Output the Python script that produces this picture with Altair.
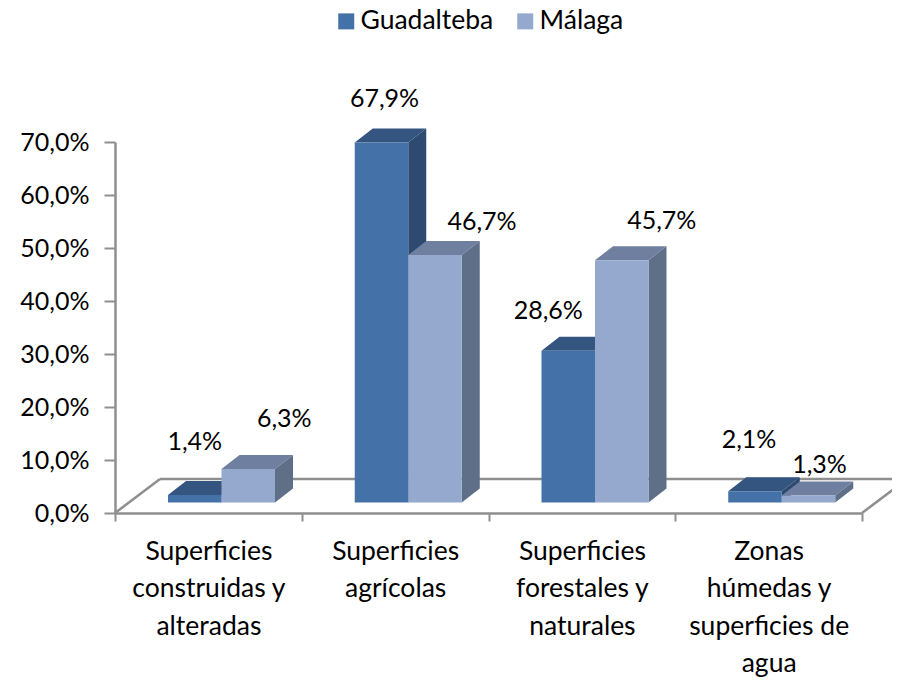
import json
import altair as alt
import pandas as pd

categories = ["Superficies|construidas y|alteradas", "Superficies|agrícolas",
              "Superficies|forestales y|naturales", "Zonas|húmedas y|superficies de|agua"]
guadalteba = [1.4, 67.9, 28.6, 2.1]
malaga = [6.3, 46.7, 45.7, 1.3]
series = ["Guadalteba", "Málaga"]
y_ticks = [0, 10, 20, 30, 40, 50, 60, 70]

FONT = "Lato"
FS = 26.5
FS_NUM = 25
GREY = "#8f8f8f"
front = {"Guadalteba": "#4472a8", "Málaga": "#95a9cf"}
side = {"Guadalteba": "#2d4a70", "Málaga": "#5f6f88"}
top = {"Guadalteba": "#34557f", "Málaga": "#6f7f9f"}

# 3-D box geometry in data units
START, BAR_W, DX = 0.2838, 0.2865, 0.0964
BASE, DY = 2.0, 2.64
FLOOR_X, FLOOR_Y = 0.241, 6.4

fronts, faces = [], []
for s_i, (s, vals) in enumerate(zip(series, [guadalteba, malaga])):
    for c_i, v in enumerate(vals):
        x0 = c_i + START + s_i * BAR_W
        x1 = x0 + BAR_W
        t = BASE + v
        fronts.append(dict(serie=s, x=x0, x2=x1, y=BASE, y2=t))
        for px, lo, hi in [(x0, t, t), (x0 + DX, t, t + DY), (x1, t, t + DY), (x1 + DX, t + DY, t + DY)]:
            faces.append(dict(serie=s, face=f"t{c_i}", fill=top[s], x=px, y=lo, y2=hi))
        for px, lo, hi in [(x1, BASE, t), (x1 + DX, BASE + DY, t + DY)]:
            faces.append(dict(serie=s, face=f"s{c_i}", fill=side[s], x=px, y=lo, y2=hi))
fronts = pd.DataFrame(fronts)
faces = pd.DataFrame(faces)

xs = alt.Scale(domain=[0, 4], nice=False, zero=False)
ys = alt.Scale(domain=[0, 70], nice=False, zero=False)

expr = "split(" + json.dumps(dict(enumerate(categories))) + "[''+datum.value] || '', '|')"
x_axis = alt.Axis(values=[0, 1, 2, 3, 4], title=None, grid=False, labelExpr=expr, labelAngle=0,
                  labelOffset=93.4, labelPadding=17, labelFont=FONT, labelFontSize=FS, labelColor="#000",
                  labelLineHeight=37.5, labelLimit=0, labelOverlap=False, labelBound=False, labelFlush=False,
                  labelAlign="center", labelBaseline="top",
                  tickSize=8, tickWidth=2, tickColor=GREY, domainColor=GREY, domainWidth=2.5)
y_axis = alt.Axis(values=y_ticks, title=None, grid=False,
                  labelExpr="replace(format(datum.value,'.1f'),'.',',')+'%'",
                  labelFont=FONT, labelFontSize=FS_NUM, labelColor="#000", labelPadding=15,
                  tickSize=11, tickWidth=2, tickColor=GREY, domainColor=GREY, domainWidth=2.5)
X = alt.X("x:Q", scale=xs, axis=x_axis)
Y = alt.Y("y:Q", scale=ys, axis=y_axis, stack=None)

floor_edges = pd.DataFrame([
    dict(e="left", x=0, y=0), dict(e="left", x=FLOOR_X, y=FLOOR_Y),
    dict(e="back", x=FLOOR_X, y=FLOOR_Y), dict(e="back", x=4 + FLOOR_X, y=FLOOR_Y),
    dict(e="right", x=4, y=0), dict(e="right", x=4 + FLOOR_X, y=FLOOR_Y),
])
floor = alt.Chart(floor_edges).mark_line(color=GREY, strokeWidth=2.5).encode(x=X, y=Y, detail="e:N")

def backs(s):
    return alt.Chart(faces[faces.serie == s]).mark_area(interpolate="linear", opacity=1).encode(
        x=X, y=Y, y2="y2:Q", detail="face:N", fill=alt.Fill("fill:N", scale=None))

fronts_layer = alt.Chart(fronts).mark_rect().encode(
    x=X, x2="x2:Q", y=Y, y2="y2:Q",
    color=alt.Color("serie:N", sort=series,
                    scale=alt.Scale(domain=series, range=[front[s] for s in series]),
                    legend=alt.Legend(orient="none", legendX=218, legendY=-134, direction="horizontal",
                                      title=None, labelFont=FONT, labelFontSize=FS, labelColor="#000",
                                      symbolType="square", symbolSize=256, symbolStrokeWidth=0,
                                      columnPadding=18, labelOffset=1, labelLimit=400, padding=0)),
)

# per-label nudges from each box's front top edge, in pixels
nudges = [[(0, -53), (36, -50)], [(3, -44), (47, -33)], [(-20, -40), (40, -39)], [(-6, -51), (11, -31)]]
labels = []
for s_i, (s, vals) in enumerate(zip(series, [guadalteba, malaga])):
    for c_i, v in enumerate(vals):
        dx, dy = nudges[c_i][s_i]
        txt = f"{v:.1f}".replace(".", ",") + "%"
        labels.append(alt.Chart(pd.DataFrame({"x": [c_i + START + (s_i + 0.5) * BAR_W], "y": [BASE + v], "t": [txt]}))
                      .mark_text(font=FONT, fontSize=FS_NUM, color="#000", dx=dx, dy=dy)
                      .encode(x=X, y=Y, text="t:N"))

chart = alt.layer(floor, backs("Guadalteba"), backs("Málaga"), fronts_layer, *labels).properties(
    width=747, height=371,
    autosize=alt.AutoSizeParams(type="none"),
    padding={"left": 107, "top": 134, "right": 30, "bottom": 167},
    background="white",
).configure_view(stroke=None)

chart.save("out.html", embed_options={"renderer": "svg", "actions": False})
